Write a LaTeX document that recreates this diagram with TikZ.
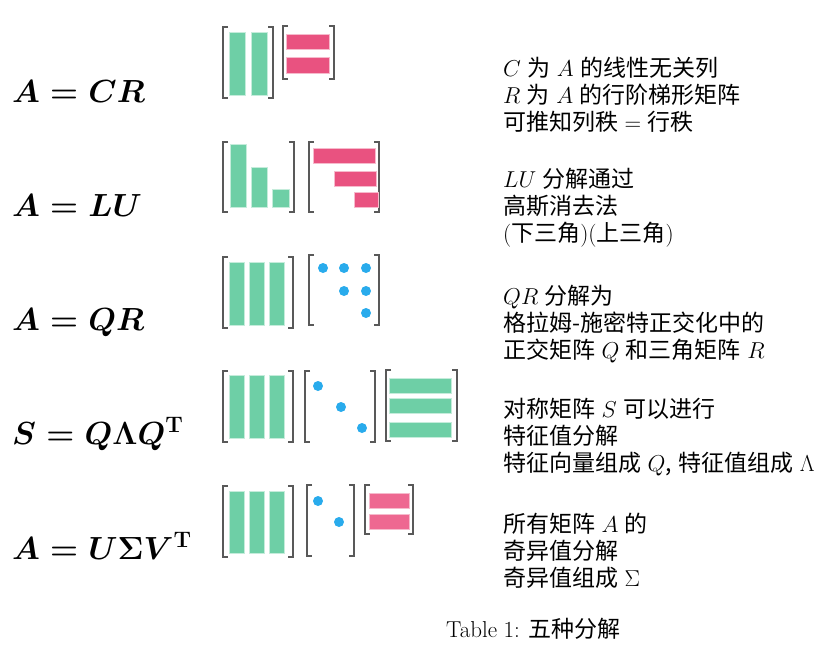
\documentclass[tikz,border=0pt]{standalone}
\usepackage{fix-cm}
\usepackage[no-math]{fontspec}
\newfontfamily\cjk{Noto Sans CJK SC}
\newcommand\notefont{\cjk\fontsize{23}{27}\selectfont\spaceskip 0.28em plus 0.1em\relax}
\definecolor{barg}{RGB}{110,207,166}
\definecolor{barp}{RGB}{233,82,128}
\definecolor{barq}{RGB}{238,104,145}
\definecolor{dotb}{RGB}{41,171,236}

\begin{document}
\begin{tikzpicture}[x=1pt,y=-1pt,
    brk/.style={draw=black!65,line width=1.2pt},
    colbar/.style={fill=barg,draw=white!60!barg,line width=0.6pt},
    rowbar/.style={fill=barp,draw=white!60!barp,line width=0.6pt},
    dot/.style={fill=dotb},
    form/.style={font=\fontsize{32}{38}\selectfont\boldmath,inner sep=0pt},
    note/.style={font=\notefont,align=left,inner sep=0pt,anchor=west}
  ]
  \useasboundingbox (0,0) rectangle (825,657);

  % formulas
  \node[form,anchor=base west] (fcr) at (12,102) {$A=CR$};
  \node[form,anchor=base west] (flu) at (12,216) {$A=LU$};
  \node[form,anchor=base west] (fqr) at (12,330) {$A=QR$};
  \node[form,anchor=base west] (fsq) at (12,444) {$S=Q\Lambda Q^{\mathrm{T}}$};
  \node[form,anchor=base west] (fsv) at (12,559) {$A=U\Sigma V^{\mathrm{T}}$};

  % brackets
  \foreach \xa/\ya/\xb/\yb in {223/27/273/98, 283/26/334/79,
      223/142/294/212, 309/142/379/212,
      223/257/293/328, 309/255/379/325,
      223/371/293/442, 305/371/375/442, 386/370/457/441,
      223/486/293/557, 307/485/354/556, 365/485/413/534}
    \draw[brk] (\xa+5,\ya) -- (\xa,\ya) -- (\xa,\yb) -- (\xa+5,\yb)
               (\xb-5,\ya) -- (\xb,\ya) -- (\xb,\yb) -- (\xb-5,\yb);

  % A = CR
  \foreach \x in {229,251}
    \path[colbar] (\x,32) rectangle (\x+16,95);
  \path[rowbar] (286,34) rectangle (329,49);
  \path[rowbar] (286,57) rectangle (329,73);

  % A = LU
  \path[colbar] (230,144) rectangle (246,207);
  \path[colbar] (251,167) rectangle (267,207);
  \path[colbar] (272,189) rectangle (289,207);
  \path[rowbar] (313,148) rectangle (375,163);
  \path[rowbar] (334,171) rectangle (376,186);
  \path[rowbar] (354,192) rectangle (378,207);

  % A = QR
  \foreach \x in {229,249,269}
    \path[colbar] (\x,262) rectangle (\x+15,325);
  \foreach \x/\y in {323/268,344/268,366/268,344/291,366/291,366/313}
    \path[dot] (\x,\y) circle[radius=5];

  % S = Q Lambda Q^T
  \foreach \x in {229,249,269}
    \path[colbar] (\x,375) rectangle (\x+15,438);
  \foreach \x/\y in {318/386,341/407,362/428}
    \path[dot] (\x,\y) circle[radius=5];
  \foreach \y in {378,398,422}
    \path[colbar] (389,\y) rectangle (451,\y+15);

  % A = U Sigma V^T
  \foreach \x in {229,249,269}
    \path[colbar] (\x,491) rectangle (\x+15,553);
  \foreach \x/\y in {318/501,339/522}
    \path[dot] (\x,\y) circle[radius=5];
  \foreach \y in {493,514}
    \path[rowbar,fill=barq] (369,\y) rectangle (409,\y+15);

  % notes
  \node[note] (ncr) at (503,95) {$C$ 为 $A$ 的线性无关列\\$R$ 为 $A$ 的行阶梯形矩阵\\可推知列秩 $=$ 行秩};
  \node[note] (nlu) at (503,208) {$LU$ 分解通过\\高斯消去法\\{\rmfamily(}下三角{\rmfamily)(}上三角{\rmfamily)}};
  \node[note] (nqr) at (503,324) {$QR$ 分解为\\格拉姆-施密特正交化中的\\正交矩阵 $Q$ 和三角矩阵 $R$};
  \node[note] (nsq) at (503,437) {对称矩阵 $S$ 可以进行\\特征值分解\\特征向量组成 $Q$, 特征值组成 $\Lambda$};
  \node[note] (nsv) at (503,551) {所有矩阵 $A$ 的\\奇异值分解\\奇异值组成 $\Sigma$};

  % caption
  \node[note,anchor=base west] (cap) at (446,637) {{\rmfamily Table 1:} 五种分解};
\end{tikzpicture}
\end{document}
